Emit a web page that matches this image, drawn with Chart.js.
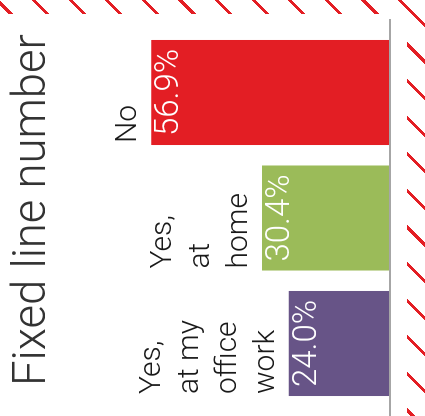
<!DOCTYPE html>
<html>
<head>
<meta charset="utf-8">
<script src="https://cdn.jsdelivr.net/npm/chart.js@4"></script>
<style>
  html, body { margin: 0; padding: 0; background: #fff; overflow: hidden; }
  /* airmail style border along the top and right edges */
  #envelope {
    position: relative; width: 425px; height: 416px;
    background: repeating-linear-gradient(45deg, #fff 0 5.9px, #e31e24 5.9px 8.9px, #fff 8.9px 25.88px);
  }
  #paper { position: absolute; left: 0; top: 14px; width: 407px; height: 402px; background: #fff; }
  /* the chart is laid out upright, then turned a quarter to the left */
  #sheet {
    position: absolute; left: 0; top: 0; width: 416px; height: 425px;
    transform-origin: 0 0; transform: translateY(416px) rotate(-90deg);
  }
</style>
</head>
<body>
<div id="envelope">
  <div id="paper"></div>
  <div id="sheet"><canvas id="chart" width="416" height="425"></canvas></div>
</div>
<script>
document.addEventListener('DOMContentLoaded', () => {

    // --- Data ---
    const chartTitle = 'Fixed line number';
    const categories = [
        ['Yes,', 'at my', 'office', 'work'],
        ['Yes,', 'at', 'home'],
        ['No']
    ];
    const shares = [24.0, 30.4, 56.9];
    const barColors = ['#675487', '#9bbb59', '#e31e24'];

    // --- Title, category names above each bar, values inside, base rule ---
    const barText = {
        id: 'barText',
        afterDatasetsDraw(chart) {
            const ctx = chart.ctx;
            const meta = chart.getDatasetMeta(0);
            ctx.save();
            ctx.textBaseline = 'alphabetic';

            ctx.font = '300 45.5px Roboto, "Open Sans", sans-serif';
            ctx.fillStyle = '#333';
            ctx.textAlign = 'left';
            ctx.fillText(chartTitle, 30, 45);

            meta.data.forEach((bar, i) => {
                const left = bar.x - bar.width / 2;
                const lines = chart.data.labels[i];

                ctx.font = '300 30px Roboto, "Open Sans", sans-serif';
                ctx.fillStyle = '#1a1a1a';
                ctx.textAlign = 'left';
                lines.forEach((line, k) => {
                    ctx.fillText(line, left + 2, bar.y - 15 - (lines.length - 1 - k) * 38);
                });

                ctx.font = '300 33px Roboto, "Open Sans", sans-serif';
                ctx.fillStyle = '#fff';
                ctx.textAlign = 'center';
                ctx.fillText(shares[i].toFixed(1) + '%', bar.x, bar.y + 27);
            });

            const y0 = chart.scales.y.getPixelForValue(0);
            ctx.strokeStyle = '#a6a6a6';
            ctx.lineWidth = 2;
            ctx.beginPath();
            ctx.moveTo(0, y0 + 1);
            ctx.lineTo(397, y0 + 1);
            ctx.stroke();
            ctx.restore();
        }
    };

    new Chart(document.getElementById('chart'), {
        type: 'bar',
        data: {
            labels: categories,
            datasets: [{
                data: shares,
                backgroundColor: barColors,
                borderWidth: 0,
                categoryPercentage: 1,
                barPercentage: 0.837
            }]
        },
        options: {
            responsive: false,
            devicePixelRatio: 1,
            animation: false,
            layout: { padding: { left: 9.75, right: 29.75, top: 138.2, bottom: 36 } },
            scales: {
                x: { display: false },
                y: { display: false, min: 0, max: 60 }
            },
            plugins: {
                legend: { display: false },
                tooltip: { enabled: false }
            }
        },
        plugins: [barText]
    });
});
</script>
</body>
</html>
